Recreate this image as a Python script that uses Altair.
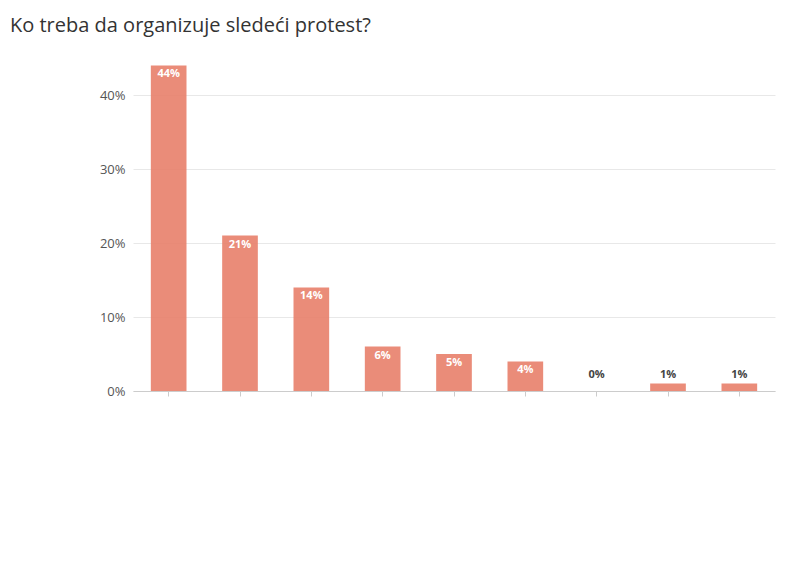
import altair as alt
import pandas as pd

categories = [
    "Svejedno, ako ja vidim jasan plan|akcije",
    "Svi zajedno (SPN, studenti,|ProGlas)",
    "Samo ProGlas",
    "ProGlas i studenti, bez stranaka",
    "Samo SPN",
    "Svejedno, dolazim u svakom|slučaju",
    "Samo studenti",
    "Ostalo (Kreni-Promeni i dr.)",
    "Ne dolazim jer je uzaludno",
]
values = [44, 21, 14, 6, 5, 4, 0, 1, 1]

df = pd.DataFrame({"cat": categories, "val": values})
df["lab"] = df["val"].astype(str) + "%"
df["inside"] = df["val"] >= 3

font = "Open Sans"
x = alt.X("cat:N", sort=categories, title=None,
          scale=alt.Scale(paddingInner=0.5, paddingOuter=0.25),
          axis=alt.Axis(labelAngle=-45, labelAlign="right", labelBaseline="top",
                        labelExpr="split(datum.label, '|')", labelOverlap=False,
                        labelBound=False, labelLimit=0, labelLineHeight=15,
                        labelFontSize=12.5, labelColor="#444", labelFont=font,
                        domainColor="#ccc", tickColor="#ccc", labelPadding=4))
y = alt.Y("val:Q", title=None, scale=alt.Scale(domain=[0, 45]),
          axis=alt.Axis(values=[0, 10, 20, 30, 40], labelExpr="datum.value + '%'",
                        labelFontSize=13, labelColor="#555", labelFont=font,
                        gridColor="#e8e8e8", domain=False, ticks=False, labelPadding=8))

base = alt.Chart(df)
bars = base.mark_bar(color="#E8806A", opacity=0.9).encode(x=x, y=y)
inner = base.transform_filter("datum.inside").mark_text(
    dy=9, color="white", fontWeight="bold", fontSize=11, font=font
).encode(x=x, y=y, text="lab:N")
outer = base.transform_filter("!datum.inside").mark_text(
    dy=-16, color="#444", fontWeight="bold", fontSize=11, font=font
).encode(x=x, y=alt.value(391 - 58), text="lab:N")

chart = (bars + inner + outer).properties(
    width=642, height=333,
    autosize=alt.AutoSizeParams(type="none"),
    padding={"left": 125, "top": 50, "right": 10, "bottom": 10},
    title=alt.TitleParams("Ko treba da organizuje sledeći protest?", anchor="start",
                          frame="group", dx=-123, offset=22, fontSize=20,
                          font=font, fontWeight="normal", color="#333"),
).configure_view(stroke=None)

chart.save("out.html", embed_options={"renderer": "svg", "actions": False})
